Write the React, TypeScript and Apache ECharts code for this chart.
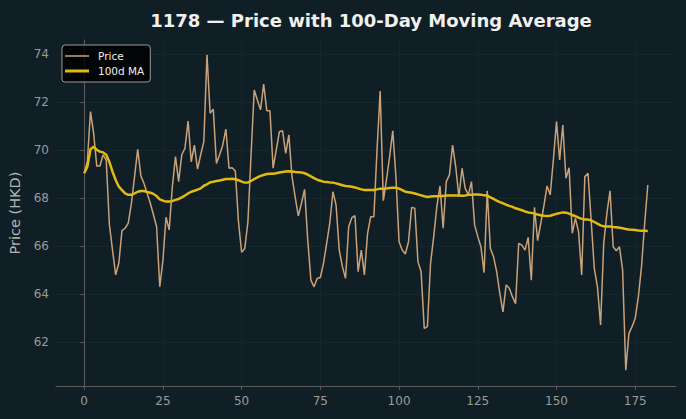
import React, { useEffect, useRef } from "react";
import * as echarts from "echarts";

// Daily closing price of 1178 (HKD), one value per trading day
const price: number[] = [
  69.03, 69.51, 71.6, 70.7, 69.33, 69.33, 69.8, 69.58, 66.9, 65.83,
  64.8, 65.28, 66.64, 66.74, 66.95, 67.78, 68.89, 70.03, 68.93, 68.6,
  68.2, 67.78, 67.3, 66.8, 64.3, 65.4, 67.2, 66.67, 68.47, 69.72,
  68.68, 69.8, 70.07, 71.2, 69.51, 70.2, 69.2, 69.8, 70.35, 73.96,
  71.53, 71.7, 69.44, 69.8, 70.2, 70.87, 69.24, 69.26, 69.12, 67.01,
  65.74, 65.9, 67.0, 69.8, 72.5, 72.08, 71.67, 72.74, 71.63, 71.63,
  69.24, 70.0, 70.76, 70.8, 69.86, 70.63, 68.89, 68.05, 67.25, 67.78,
  68.36, 66.25, 64.58, 64.3, 64.65, 64.69, 65.28, 66.1, 66.95, 68.26,
  67.7, 65.83, 65.14, 64.65, 66.8, 67.18, 67.26, 64.93, 65.83, 64.8,
  66.53, 67.22, 67.22, 70.0, 72.45, 67.89, 68.75, 69.72, 70.8, 68.89,
  66.18, 65.83, 65.67, 66.18, 67.61, 67.57, 65.35, 64.93, 62.57, 62.64,
  65.28, 66.39, 67.64, 68.5, 66.74, 68.68, 68.96, 70.2, 69.3, 68.05,
  69.24, 68.4, 68.13, 68.68, 66.88, 66.39, 65.97, 64.89, 68.3, 65.9,
  65.56, 64.93, 64.03, 63.26, 64.38, 64.24, 63.89, 63.6, 66.11, 66.04,
  65.83, 66.36, 64.58, 67.61, 66.22, 66.94, 67.67, 68.5, 68.13, 69.58,
  71.18, 69.58, 71.04, 68.82, 69.26, 66.53, 67.15, 66.6, 64.79, 68.89,
  69.03, 67.08, 65.07, 64.3, 62.71, 66.11, 67.36, 68.3, 65.97, 65.8,
  65.97, 65.0, 60.83, 62.36, 62.64, 62.99, 63.89, 65.14, 66.94, 68.54,
];

// 100-day moving average of the close
const ma100: number[] = [
  69.03, 69.3, 70.03, 70.14, 70.0, 69.93, 69.9, 69.8, 69.5, 69.1,
  68.75, 68.47, 68.33, 68.19, 68.13, 68.13, 68.19, 68.26, 68.29, 68.29,
  68.25, 68.22, 68.17, 68.08, 67.94, 67.89, 67.85, 67.85, 67.87, 67.92,
  67.96, 68.03, 68.1, 68.19, 68.26, 68.3, 68.35, 68.4, 68.51, 68.57,
  68.65, 68.68, 68.71, 68.73, 68.76, 68.79, 68.79, 68.8, 68.78, 68.74,
  68.68, 68.64, 68.65, 68.71, 68.79, 68.86, 68.92, 68.96, 69.0, 69.01,
  69.01, 69.03, 69.06, 69.08, 69.1, 69.11, 69.1, 69.08, 69.07, 69.06,
  69.03, 68.97, 68.9, 68.83, 68.76, 68.72, 68.68, 68.67, 68.65, 68.64,
  68.61, 68.57, 68.53, 68.5, 68.49, 68.47, 68.44, 68.4, 68.36, 68.33,
  68.33, 68.33, 68.33, 68.36, 68.39, 68.39, 68.4, 68.42, 68.43, 68.43,
  68.39, 68.33, 68.26, 68.24, 68.22, 68.19, 68.15, 68.11, 68.07, 68.04,
  68.06, 68.07, 68.07, 68.08, 68.08, 68.1, 68.1, 68.1, 68.1, 68.1,
  68.09, 68.1, 68.13, 68.14, 68.15, 68.15, 68.14, 68.11, 68.1, 68.03,
  67.96, 67.89, 67.83, 67.78, 67.72, 67.67, 67.63, 67.57, 67.53, 67.49,
  67.44, 67.4, 67.38, 67.35, 67.31, 67.28, 67.26, 67.25, 67.26, 67.3,
  67.34, 67.37, 67.4, 67.39, 67.35, 67.29, 67.24, 67.18, 67.13, 67.1,
  67.1, 67.07, 67.0, 66.93, 66.86, 66.82, 66.81, 66.81, 66.79, 66.78,
  66.76, 66.74, 66.71, 66.69, 66.68, 66.67, 66.65, 66.64, 66.64, 66.63,
];

const xTicks: number[] = [0, 25, 50, 75, 100, 125, 150, 175];
const yTicks: number[] = [62, 64, 66, 68, 70, 72, 74];

const FONT = "DejaVu Sans";
const BG = "#101f26";
const AXIS = "#5c5c5c";
const GRID = "#172830";
const TICK_TEXT = "#9a9a9a";
const PRICE_COLOR = "#caa27a";
const MA_COLOR = "#e2ba12";

export default function App() {
  const ref = useRef<HTMLDivElement>(null);

  useEffect(() => {
    document.body.style.margin = "0";
    if (!ref.current) return;
    const chart = echarts.init(ref.current, null, { renderer: "svg" });

    const axisCommon = {
      axisLine: { show: true, lineStyle: { color: AXIS, width: 1 } },
      axisTick: { show: true, length: 4, inside: false, lineStyle: { color: AXIS } },
      splitLine: { show: true, lineStyle: { color: GRID, width: 0.8 } },
    };

    chart.setOption({
      animation: false,
      backgroundColor: BG,
      title: {
        text: "1178 — Price with 100-Day Moving Average",
        left: 366,
        textAlign: "center",
        top: 6,
        textStyle: { fontFamily: FONT, fontSize: 18, fontWeight: "bold", color: "#f0f0f0" },
      },
      legend: {
        show: true,
        orient: "vertical",
        left: 62,
        top: 45,
        padding: [5, 6, 5, 3],
        itemGap: 3,
        itemWidth: 24,
        itemHeight: 10,
        symbolKeepAspect: true,
        backgroundColor: "rgba(0,0,0,0.82)",
        borderColor: "#9a9a9a",
        borderWidth: 1,
        borderRadius: 3,
        textStyle: { fontFamily: FONT, fontSize: 10.5, color: "#eeeeee", padding: [0, 0, 0, 4], lineHeight: 12 },
        data: [
          { name: "Price", icon: "path://M0,0H16V1H0Z", itemStyle: { color: PRICE_COLOR } },
          { name: "100d MA", icon: "path://M0,0H8V1H0Z", itemStyle: { color: MA_COLOR } },
        ],
      },
      grid: { left: 56, right: 10, top: 40, bottom: 33, containLabel: false, outerBoundsMode: "none" },
      xAxis: {
        type: "value",
        min: -8.95,
        max: 187.95,
        ...axisCommon,
        axisTick: { ...axisCommon.axisTick, customValues: xTicks },
        axisLabel: {
          customValues: xTicks,
          margin: 9,
          fontFamily: FONT,
          fontSize: 12,
          color: TICK_TEXT,
        },
      },
      yAxis: {
        type: "value",
        min: 60.17,
        max: 74.58,
        name: "Price (HKD)",
        nameLocation: "middle",
        nameGap: 31,
        nameTextStyle: { fontFamily: FONT, fontSize: 14.5, color: "#b4b4b4" },
        ...axisCommon,
        axisTick: { ...axisCommon.axisTick, customValues: yTicks },
        axisLabel: {
          customValues: yTicks,
          margin: 7,
          fontFamily: FONT,
          fontSize: 12,
          color: TICK_TEXT,
        },
      },
      series: [
        {
          name: "Price",
          type: "line",
          data: price.map((v, i) => [i, v]),
          symbol: "none",
          showSymbol: false,
          lineStyle: { color: PRICE_COLOR, width: 1.5 },
          itemStyle: { color: PRICE_COLOR },
          z: 2,
        },
        {
          name: "100d MA",
          type: "line",
          data: ma100.map((v, i) => [i, v]),
          symbol: "none",
          showSymbol: false,
          lineStyle: { color: MA_COLOR, width: 2.5 },
          itemStyle: { color: MA_COLOR },
          z: 3,
        },
      ],
    });

    return () => chart.dispose();
  }, []);

  return <div ref={ref} style={{ width: 686, height: 419 }} />;
}
